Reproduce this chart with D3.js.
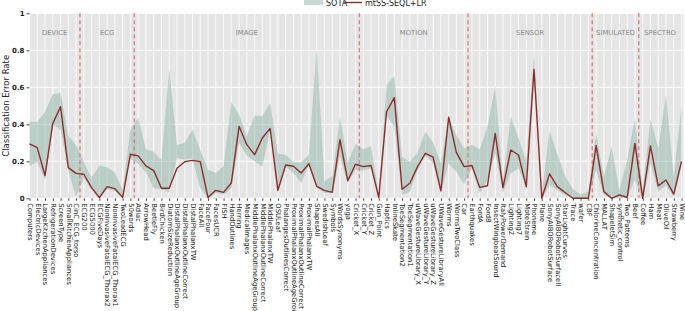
<!DOCTYPE html>
<html>
<head>
<meta charset="utf-8">
<script src="https://cdn.jsdelivr.net/npm/d3@7/dist/d3.min.js"></script>
<style>
  body{margin:0;background:#fff;}
  svg text{font-family:"DejaVu Sans",sans-serif;}
</style>
</head>
<body>
<div id="chart"></div>
<script>
/* ---------- DATA ---------- */
const datasets = [
  "Computers","ElectricDevices","LargeKitchenAppliances","RefrigerationDevices","ScreenType","SmallKitchenAppliances",
  "CinC_ECG_torso","ECG200","ECG5000","ECGFiveDays","NonInvasiveFatalECG_Thorax2","NonInvasiveFatalECG_Thorax1","TwoLeadECG",
  "50words","Adiac","ArrowHead","BeetleFly","BirdChicken","DiatomSizeReduction","DistalPhalanxOutlineAgeGroup",
  "DistalPhalanxOutlineCorrect","DistalPhalanxTW","FaceAll","FaceFour","FacesUCR","FISH","HandOutlines","Herring",
  "MedicalImages","MiddlePhalanxOutlineAgeGroup","MiddlePhalanxOutlineCorrect","MiddlePhalanxTW","OSULeaf",
  "PhalangesOutlinesCorrect","ProximalPhalanxOutlineAgeGroup","ProximalPhalanxOutlineCorrect","ProximalPhalanxTW",
  "ShapesAll","SwedishLeaf","Symbols","WordsSynonyms","yoga",
  "Cricket_X","Cricket_Y","Cricket_Z","Gun_Point","Haptics","InlineSkate","ToeSegmentation2","ToeSegmentation1",
  "uWaveGestureLibrary_X","uWaveGestureLibrary_Y","uWaveGestureLibrary_Z","UWaveGestureLibraryAll","Worms","WormsTwoClass",
  "Car","Earthquakes","FordA","FordB","InsectWingbeatSound","ItalyPowerDemand","Lighting2","Lighting7","MoteStrain",
  "Phoneme","Plane","SonyAIBORobotSurface","SonyAIBORobotSurfaceII","StarLightCurves","Trace","wafer",
  "CBF","ChlorineConcentration","MALLAT","ShapeletSim","synthetic_control","Two_Patterns",
  "Beef","Coffee","Ham","Meat","OliveOil","Strawberry","Wine"
];
const groupNames  = ["DEVICE","ECG","IMAGE","MOTION","SENSOR","SIMULATED","SPECTRO"];
const groupSizes  = [6, 7, 29, 14, 16, 6, 7];

const mtss = [
  0.294,0.274,0.123,0.405,0.495,0.166,
  0.135,0.130,0.058,0.004,0.063,0.052,0.005,
  0.238,0.229,0.175,0.150,0.054,0.054,0.162,0.198,0.205,0.198,0.004,0.043,0.032,0.083,0.389,
  0.290,0.236,0.326,0.378,0.043,0.180,0.173,0.137,0.187,0.065,0.043,0.032,0.317,0.095,
  0.184,0.171,0.177,0.004,0.468,0.544,0.049,0.081,0.171,0.243,0.222,0.040,0.438,0.247,
  0.171,0.177,0.059,0.068,0.351,0.058,0.261,0.234,0.063,0.697,0.000,0.132,0.063,0.031,0.000,0.000,
  0.000,0.285,0.036,0.000,0.018,0.005,
  0.297,0.000,0.283,0.067,0.099,0.023,0.200
];
const sotaMax = [
  0.414,0.413,0.468,0.562,0.571,0.337,
  0.288,0.198,0.108,0.178,0.166,0.139,0.045,
  0.373,0.434,0.265,0.252,0.207,0.697,0.288,0.300,0.372,0.260,0.155,0.137,0.173,0.519,0.452,
  0.335,0.447,0.443,0.515,0.241,0.236,0.195,0.195,0.236,0.813,0.092,0.119,0.438,0.191,
  0.295,0.265,0.283,0.020,0.613,0.661,0.225,0.198,0.247,0.360,0.301,0.189,0.440,0.340,
  0.270,0.290,0.265,0.387,0.604,0.099,0.441,0.324,0.200,0.780,0.020,0.365,0.240,0.120,0.050,0.020,
  0.036,0.350,0.117,0.279,0.045,0.207,
  0.432,0.045,0.429,0.270,0.558,0.117,0.499
];
const sotaMin = [
  0.175,0.198,0.099,0.400,0.370,0.150,
  0.010,0.108,0.045,0.000,0.049,0.041,0.000,
  0.216,0.186,0.141,0.054,0.049,0.034,0.216,0.210,0.215,0.056,0.000,0.030,0.020,0.050,0.300,
  0.230,0.200,0.170,0.370,0.030,0.170,0.137,0.083,0.180,0.060,0.029,0.029,0.227,0.086,
  0.153,0.150,0.162,0.000,0.450,0.387,0.018,0.036,0.153,0.234,0.189,0.027,0.189,0.144,
  0.076,0.162,0.027,0.100,0.243,0.030,0.135,0.162,0.060,0.680,0.000,0.070,0.045,0.018,0.000,0.000,
  0.000,0.153,0.018,0.000,0.000,0.005,
  0.099,0.000,0.190,0.036,0.070,0.010,0.170
];
const yTicks = [0, 0.2, 0.4, 0.6, 0.8, 1];
const yTickLabels = ["0","0.2","0.4","0.6","0.8","1"];

/* ---------- LAYOUT ---------- */
const W = 685, H = 311;
const M = {top:13.3, right:3.5, bottom:112.7, left:29.5};
const IW = W - M.left - M.right, IH = H - M.top - M.bottom;

const C = {bg:"#e5e5e5", grid:"#ffffff", band:"#8fb8aa", line:"#8e2c2c", dash:"#e07b7b", group:"#8a8a8a"};

const svg = d3.select("#chart").append("svg").attr("width",W).attr("height",H);
const g = svg.append("g").attr("transform",`translate(${M.left},${M.top})`);

const x = d3.scaleLinear().domain([0, datasets.length-1]).range([0, IW]);
const y = d3.scaleLinear().domain([0, 1]).range([IH, 0]);

g.append("rect").attr("x",0.5).attr("width",IW+1.5).attr("height",IH).attr("fill",C.bg);

/* grid */
g.selectAll("line.vgrid").data(d3.range(datasets.length)).enter().append("line")
  .attr("class","vgrid").attr("x1",d=>x(d)).attr("x2",d=>x(d)).attr("y1",0).attr("y2",IH)
  .attr("stroke",C.grid).attr("stroke-width",0.8);
g.selectAll("line.hgrid").data(yTicks).enter().append("line")
  .attr("class","hgrid").attr("x1",0.5).attr("x2",IW+2).attr("y1",d=>y(d)).attr("y2",d=>y(d))
  .attr("stroke",C.grid).attr("stroke-width",1);

/* SOTA band */
const rows = datasets.map((n,i)=>({i, lo:sotaMin[i], hi:sotaMax[i], v:mtss[i]}));
const band = d3.area().x(d=>x(d.i)).y0(d=>y(d.lo)).y1(d=>y(d.hi));
g.append("path").datum(rows).attr("d",band).attr("fill",C.band).attr("fill-opacity",0.5);

/* group separators: drawn one item past each group start, as in the source figure */
let acc = 0;
const starts = groupSizes.map(s=>{ const st = acc; acc += s; return st; });
const seps = starts.slice(1).map(s=>s + 0.5);
g.selectAll("line.sep").data(seps).enter().append("line")
  .attr("class","sep").attr("x1",d=>x(d)).attr("x2",d=>x(d)).attr("y1",0).attr("y2",IH)
  .attr("stroke",C.dash).attr("stroke-width",1.3).attr("stroke-dasharray","4,3");

const bounds = [0, ...seps, datasets.length-1];
g.selectAll("text.grp").data(groupNames).enter().append("text")
  .attr("class","grp").attr("x",(d,i)=>x((bounds[i]+bounds[i+1])/2)).attr("y",y(0.88))
  .attr("text-anchor","middle").attr("fill",C.group).style("font-size","6.8px").text(d=>d);

/* mtSS line */
const line = d3.line().x(d=>x(d.i)).y(d=>y(d.v));
g.append("path").datum(rows).attr("d",line).attr("fill","none")
  .attr("stroke",C.line).attr("stroke-width",1.4).attr("stroke-linejoin","round");

/* axes */
const yAxis = g.append("g").call(d3.axisLeft(y).tickValues(yTicks)
  .tickFormat((d,i)=>yTickLabels[i]).tickSize(3).tickPadding(2));
yAxis.select(".domain").remove();
yAxis.selectAll("text").style("font-size","7px").attr("fill","#222").style("font-weight","bold");
yAxis.selectAll("line").attr("stroke","#444");

const xAxis = g.append("g").attr("transform",`translate(0,${IH})`)
  .call(d3.axisBottom(x).tickValues(d3.range(datasets.length))
  .tickFormat(i=>datasets[i]).tickSize(2.5).tickPadding(3));
xAxis.select(".domain").remove();
xAxis.selectAll("line").attr("stroke","#444");
xAxis.selectAll("text").style("font-size","6.8px").attr("fill","#111")
  .attr("text-anchor","start").attr("transform","rotate(90)")
  .attr("x",5).attr("y",0).attr("dy","0.32em");

svg.append("text").attr("transform",`translate(9,${M.top+IH/2}) rotate(-90)`)
  .attr("text-anchor","middle").style("font-size","8.5px").attr("fill","#222")
  .text("Classification Error Rate");

/* legend */
const lg = svg.append("g").attr("transform","translate(304,0)");
lg.append("rect").attr("x",0).attr("y",-2).attr("width",19).attr("height",7)
  .attr("fill",C.band).attr("fill-opacity",0.5);
lg.append("text").attr("x",22).attr("y",6).style("font-size","8px").attr("fill","#222").text("SOTA");
lg.append("line").attr("x1",40).attr("x2",58).attr("y1",2.5).attr("y2",2.5)
  .attr("stroke",C.line).attr("stroke-width",1.4);
lg.append("text").attr("x",61).attr("y",6).style("font-size","8px").attr("fill","#222").text("mtSS-SEQL+LR");
</script>
</body>
</html>
